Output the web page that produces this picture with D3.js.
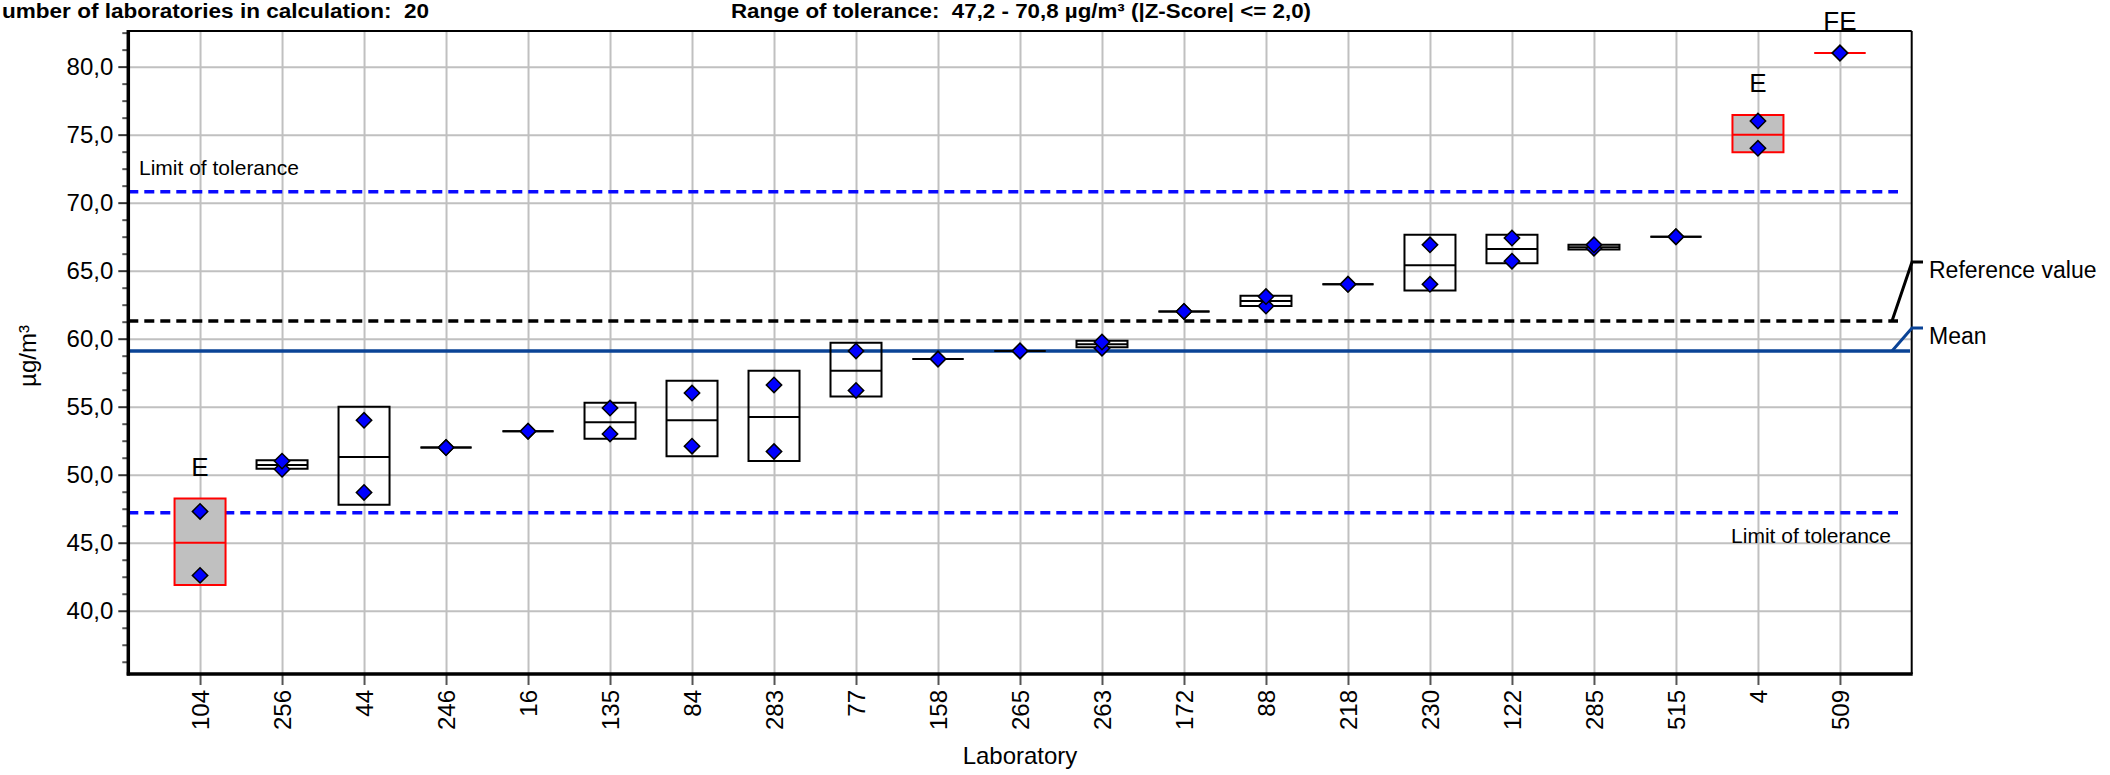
<!DOCTYPE html>
<html>
<head>
<meta charset="utf-8">
<script src="https://cdn.jsdelivr.net/npm/d3@7"></script>
<style>
  html, body { margin: 0; padding: 0; background: #fff; overflow: hidden; }
  svg { display: block; font-family: "Liberation Sans", Arial, sans-serif; }
  .pre { white-space: pre; }
</style>
</head>
<body>
<svg id="chart" width="2110" height="775"></svg>
<script>
// Laboratories, ordered by their mean result
const labs = ["104","256","44","246","16","135","84","283","77","158","265","263","172","88","218","230","122","285","515","4","509"];

// Two replicate results per laboratory (µg/m³)
const replicateA = [47.3, 51.0, 54.0, 52.0, 53.2, 54.9, 56.0, 56.6, 59.1, 58.5, 59.1, 59.75, 62.0, 63.1, 64.0, 66.9, 67.4, 66.9, 67.5, 76.0, 81.0];
const replicateB = [42.6, 50.4, 48.7, 52.0, 53.2, 53.0, 52.1, 51.7, 56.2, 58.5, 59.1, 59.3, 62.0, 62.4, 64.0, 64.0, 65.7, 66.65, 67.5, 74.0, 81.0];

// Laboratory mean and spread box (lower / upper edge)
const labMean = [45.0, 50.72, 51.3, 52.0, 53.2, 53.85, 54.0, 54.25, 57.65, 58.5, 59.1, 59.6, 62.0, 62.78, 64.0, 65.4, 66.6, 66.72, 67.5, 75.0, 81.0];
const boxLow  = [41.9, 50.44, 47.8, 52.0, 53.2, 52.65, 51.35, 51.0, 55.75, 58.5, 59.1, 59.38, 62.0, 62.4, 64.0, 63.55, 65.55, 66.55, 67.5, 73.7, 81.0];
const boxHigh = [48.25, 51.06, 55.0, 52.0, 53.2, 55.3, 56.9, 57.65, 59.7, 58.5, 59.1, 59.85, 62.0, 63.15, 64.0, 67.65, 67.65, 66.9, 67.5, 76.45, 81.0];

// Flagged laboratories and their flag text
const flaggedLabs = ["104", "4", "509"];
const flagTexts   = ["E", "E", "FE"];

// Evaluation values
const referenceValue = 61.3;
const overallMean = 59.1;
const toleranceLow = 47.2;
const toleranceHigh = 70.8;

// Axis ticks
const majorTicks = [40, 45, 50, 55, 60, 65, 70, 75, 80];
const minorTicks = d3.range(36.25, 82.6, 1.25).filter(v => Math.abs(v / 5 - Math.round(v / 5)) > 1e-6);

const plot = { left: 128.3, right: 1911.7, top: 31, bottom: 674 };
const W = plot.right - plot.left, H = plot.bottom - plot.top;

const svg = d3.select("#chart");

const x = d3.scalePoint().domain(labs).range([plot.left, plot.right]).padding(0.875);
const y = d3.scaleLinear().domain([35.35, 82.62]).range([plot.bottom, plot.top]);

const fmt = v => d3.format(".1f")(v).replace(".", ",");

// ---- grid ----
svg.append("g")
  .attr("transform", `translate(${plot.left},0)`)
  .call(d3.axisLeft(y).tickValues(majorTicks).tickSize(-W).tickFormat(""))
  .call(g => g.select(".domain").remove())
  .selectAll("line").attr("stroke", "#c0c0c0").attr("stroke-width", 2);

svg.append("g")
  .attr("transform", `translate(0,${plot.bottom})`)
  .call(d3.axisBottom(x).tickSize(-H).tickFormat(""))
  .call(g => g.select(".domain").remove())
  .selectAll("line").attr("stroke", "#c0c0c0").attr("stroke-width", 2);

// ---- tolerance, reference and mean lines ----
const lineEnd = 1898;
[toleranceHigh, toleranceLow].forEach(v => {
  svg.append("line")
    .attr("x1", plot.left).attr("x2", lineEnd)
    .attr("y1", y(v)).attr("y2", y(v))
    .attr("stroke", "#0a0aff").attr("stroke-width", 3.5)
    .attr("stroke-dasharray", "10,6");
});
svg.append("line")
  .attr("x1", plot.left).attr("x2", lineEnd)
  .attr("y1", y(referenceValue)).attr("y2", y(referenceValue))
  .attr("stroke", "#000").attr("stroke-width", 3.5)
  .attr("stroke-dasharray", "10,6");
const meanColor = "#0a4396";
svg.append("line")
  .attr("x1", plot.left).attr("x2", 1910)
  .attr("y1", y(overallMean)).attr("y2", y(overallMean))
  .attr("stroke", meanColor).attr("stroke-width", 3.5);

// tolerance captions
svg.append("text")
  .attr("x", 139).attr("y", y(toleranceHigh) - 17)
  .attr("font-size", 21).attr("fill", "#000")
  .text("Limit of tolerance");
svg.append("text")
  .attr("x", 1891).attr("y", y(toleranceLow) + 30.5)
  .attr("text-anchor", "end")
  .attr("font-size", 21).attr("fill", "#000")
  .text("Limit of tolerance");

// ---- boxes ----
const halfW = 25.5;
const rows = labs.map((lab, i) => ({
  lab, a: replicateA[i], b: replicateB[i], mean: labMean[i], lo: boxLow[i], hi: boxHigh[i],
  flag: flaggedLabs.indexOf(lab)
}));

const boxG = svg.append("g");
rows.forEach(d => {
  const cx = x(d.lab);
  const flagged = d.flag >= 0;
  const col = flagged ? "#ff0000" : "#000";
  const p = d3.path();
  p.moveTo(cx - halfW, y(d.hi));
  p.lineTo(cx + halfW, y(d.hi));
  p.lineTo(cx + halfW, y(d.lo));
  p.lineTo(cx - halfW, y(d.lo));
  p.closePath();
  boxG.append("path")
    .attr("d", p.toString())
    .attr("fill", flagged ? "#c0c0c0" : "none")
    .attr("stroke", col).attr("stroke-width", 2);
  boxG.append("line")
    .attr("x1", cx - halfW).attr("x2", cx + halfW)
    .attr("y1", y(d.mean)).attr("y2", y(d.mean))
    .attr("stroke", col).attr("stroke-width", 2);
});

// ---- replicate markers ----
const diamond = d3.symbol(d3.symbolSquare, 118);
const ptG = svg.append("g");
rows.forEach(d => {
  [d.b, d.a].forEach(v => {
    ptG.append("path")
      .attr("d", diamond())
      .attr("transform", `translate(${x(d.lab)},${y(v)}) rotate(45)`)
      .attr("fill", "#0000ff").attr("stroke", "#000").attr("stroke-width", 1.5);
  });
});

// ---- flag labels ----
rows.filter(d => d.flag >= 0).forEach(d => {
  svg.append("text")
    .attr("x", x(d.lab)).attr("y", y(Math.max(d.hi, d.a)) - 23)
    .attr("text-anchor", "middle")
    .attr("font-size", 26).attr("fill", "#000")
    .text(flagTexts[d.flag]);
});

// ---- axes ----
const yAxisG = svg.append("g")
  .attr("transform", `translate(${plot.left},0)`)
  .call(d3.axisLeft(y).tickValues(majorTicks).tickSize(10).tickPadding(5).tickFormat(fmt));
yAxisG.select(".domain").remove();
yAxisG.selectAll("line").attr("stroke", "#333").attr("stroke-width", 2);
yAxisG.selectAll("text").attr("font-size", 24).attr("fill", "#000")
  .attr("font-family", "'Liberation Sans', Arial, sans-serif");

const yMinor = svg.append("g")
  .attr("transform", `translate(${plot.left},0)`)
  .call(d3.axisLeft(y).tickValues(minorTicks).tickSize(6).tickFormat(""));
yMinor.select(".domain").remove();
yMinor.selectAll("line").attr("stroke", "#555").attr("stroke-width", 2);

const xAxisG = svg.append("g")
  .attr("transform", `translate(0,${plot.bottom})`)
  .call(d3.axisBottom(x).tickSize(11));
xAxisG.select(".domain").remove();
xAxisG.selectAll("line").attr("stroke", "#555").attr("stroke-width", 2);
xAxisG.selectAll("text")
  .attr("transform", "rotate(-90)")
  .attr("x", -16).attr("y", 0).attr("dy", "0.36em")
  .attr("text-anchor", "end")
  .attr("font-size", 24).attr("fill", "#000")
  .attr("font-family", "'Liberation Sans', Arial, sans-serif");

// frame
svg.append("line").attr("x1", plot.left).attr("x2", plot.right).attr("y1", plot.top).attr("y2", plot.top)
  .attr("stroke", "#000").attr("stroke-width", 2);
svg.append("line").attr("x1", plot.right).attr("x2", plot.right).attr("y1", plot.top).attr("y2", plot.bottom)
  .attr("stroke", "#000").attr("stroke-width", 2);
svg.append("line").attr("x1", plot.left).attr("x2", plot.left).attr("y1", plot.top - 1).attr("y2", plot.bottom + 1.5)
  .attr("stroke", "#000").attr("stroke-width", 3.5);
svg.append("line").attr("x1", plot.left - 1.5).attr("x2", plot.right + 1).attr("y1", plot.bottom).attr("y2", plot.bottom)
  .attr("stroke", "#000").attr("stroke-width", 3.5);

// axis titles
svg.append("text")
  .attr("transform", `translate(36,356) rotate(-90)`)
  .attr("text-anchor", "middle")
  .attr("font-size", 24).attr("fill", "#000")
  .text("µg/m³");
svg.append("text")
  .attr("x", (plot.left + plot.right) / 2).attr("y", 764)
  .attr("text-anchor", "middle")
  .attr("font-size", 24).attr("fill", "#000")
  .text("Laboratory");

// ---- legend for reference value and mean ----
svg.append("path")
  .attr("d", `M1892,${y(referenceValue)} L1912,262 L1923,262`)
  .attr("fill", "none").attr("stroke", "#000").attr("stroke-width", 3);
svg.append("path")
  .attr("d", `M1892,${y(overallMean)} L1912,328 L1923,328`)
  .attr("fill", "none").attr("stroke", meanColor).attr("stroke-width", 3);
svg.append("text").attr("x", 1929).attr("y", 277.5)
  .attr("font-size", 23).attr("fill", "#000").text("Reference value");
svg.append("text").attr("x", 1929).attr("y", 343.5)
  .attr("font-size", 23).attr("fill", "#000").text("Mean");

// ---- header ----
svg.append("text")
  .attr("class", "pre")
  .attr("x", 2).attr("y", 18)
  .attr("font-size", 20).attr("font-weight", "bold").attr("fill", "#000")
  .attr("textLength", 427).attr("lengthAdjust", "spacingAndGlyphs")
  .text("umber of laboratories in calculation:  20");
svg.append("text")
  .attr("class", "pre")
  .attr("x", 731).attr("y", 18)
  .attr("font-size", 20).attr("font-weight", "bold").attr("fill", "#000")
  .attr("textLength", 580).attr("lengthAdjust", "spacingAndGlyphs")
  .text("Range of tolerance:  47,2 - 70,8 µg/m³ (|Z-Score| <= 2,0)");
</script>
</body>
</html>
